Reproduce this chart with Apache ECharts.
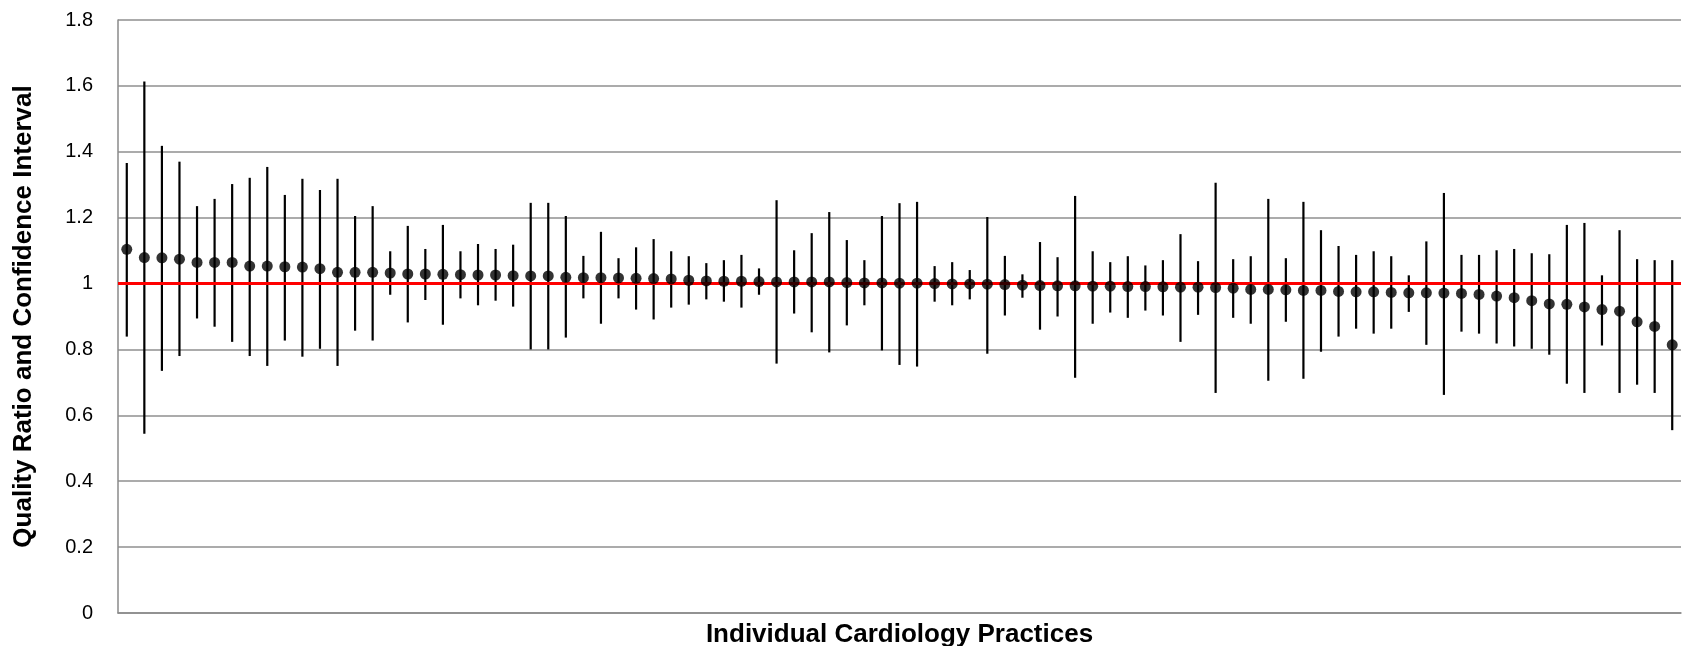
<!DOCTYPE html>
<html>
<head>
<meta charset="utf-8">
<script src="https://cdn.jsdelivr.net/npm/echarts@6/dist/echarts.min.js"></script>
<style>
html,body{margin:0;padding:0;background:#fff;}
#chart{width:1684px;height:646px;}
</style>
</head>
<body>
<div id="chart"></div>
<script>
var practices = [];
for (var k = 1; k <= 89; k++) practices.push(String(k));

var qualityRatio = [1.104,1.079,1.078,1.074,1.064,1.064,1.064,1.053,1.053,1.051,1.050,1.045,1.034,1.034,1.034,1.032,1.029,1.029,1.028,1.027,1.026,1.026,1.024,1.023,1.023,1.019,1.018,1.018,1.017,1.016,1.015,1.014,1.010,1.008,1.007,1.007,1.006,1.005,1.005,1.005,1.005,1.003,1.002,1.002,1.001,1.001,1.000,0.999,0.999,0.998,0.997,0.995,0.994,0.993,0.993,0.992,0.992,0.991,0.991,0.990,0.989,0.989,0.988,0.986,0.982,0.982,0.981,0.979,0.979,0.976,0.975,0.975,0.973,0.972,0.972,0.971,0.970,0.967,0.962,0.957,0.948,0.938,0.937,0.929,0.921,0.916,0.884,0.870,0.814];

var upperCI = [1.366,1.613,1.418,1.370,1.235,1.257,1.302,1.321,1.354,1.269,1.318,1.284,1.318,1.205,1.235,1.098,1.175,1.105,1.178,1.098,1.120,1.105,1.118,1.245,1.245,1.205,1.084,1.157,1.077,1.110,1.135,1.098,1.083,1.062,1.071,1.087,1.046,1.253,1.101,1.153,1.217,1.132,1.071,1.205,1.244,1.248,1.053,1.065,1.041,1.202,1.084,1.028,1.126,1.080,1.266,1.098,1.065,1.083,1.055,1.071,1.150,1.068,1.306,1.074,1.083,1.257,1.077,1.248,1.162,1.114,1.087,1.098,1.083,1.025,1.128,1.275,1.087,1.087,1.101,1.105,1.092,1.089,1.178,1.184,1.025,1.162,1.074,1.071,1.071];

var lowerCI = [0.839,0.544,0.735,0.780,0.894,0.869,0.823,0.780,0.750,0.827,0.778,0.802,0.750,0.857,0.827,0.966,0.882,0.950,0.875,0.955,0.934,0.948,0.930,0.800,0.800,0.836,0.955,0.878,0.955,0.921,0.891,0.927,0.936,0.952,0.945,0.927,0.966,0.757,0.909,0.852,0.791,0.873,0.934,0.797,0.753,0.748,0.945,0.934,0.952,0.787,0.903,0.957,0.860,0.900,0.714,0.878,0.912,0.896,0.918,0.903,0.823,0.905,0.668,0.896,0.878,0.705,0.884,0.711,0.793,0.839,0.863,0.848,0.863,0.914,0.814,0.662,0.854,0.848,0.818,0.809,0.802,0.784,0.696,0.668,0.812,0.668,0.693,0.668,0.555];

var referenceValue = 1;

var errorData = practices.map(function (p, i) { return [i, lowerCI[i], upperCI[i]]; });

var chart = echarts.init(document.getElementById('chart'), null, {renderer: 'canvas'});
var FONT = '"Liberation Sans", Arial, sans-serif';
chart.setOption({
  animation: false,
  backgroundColor: '#ffffff',
  grid: {left: 118, right: 3, top: 20, bottom: 33, containLabel: false, outerBoundsMode: 'none'},
  xAxis: {
    type: 'category',
    data: practices,
    boundaryGap: true,
    axisLine: {show: true, lineStyle: {color: '#8a8a8a', width: 1.5}},
    axisTick: {show: false},
    axisLabel: {show: false},
    splitLine: {show: false},
    name: 'Individual Cardiology Practices',
    nameLocation: 'middle',
    nameGap: 9,
    nameTextStyle: {fontFamily: FONT, fontWeight: 'bold', fontSize: 26, color: '#000'}
  },
  yAxis: {
    type: 'value',
    min: 0, max: 1.8, interval: 0.2,
    axisLine: {show: true, lineStyle: {color: '#8a8a8a', width: 1.5}},
    axisTick: {show: false},
    axisLabel: {fontFamily: FONT, fontSize: 20, color: '#000', margin: 25},
    splitLine: {show: true, lineStyle: {color: '#8f8f8f', width: 1.5}},
    name: 'Quality Ratio and Confidence Interval',
    nameLocation: 'middle',
    nameGap: 81,
    nameRotate: 90,
    nameTextStyle: {fontFamily: FONT, fontWeight: 'bold', fontSize: 26, color: '#000'}
  },
  series: [
    {
      type: 'custom',
      name: 'CI',
      z: 2,
      renderItem: function (params, api) {
        var lo = api.coord([api.value(0), api.value(1)]);
        var hi = api.coord([api.value(0), api.value(2)]);
        return {
          type: 'line',
          shape: {x1: lo[0], y1: lo[1], x2: hi[0], y2: hi[1]},
          style: {stroke: '#000', lineWidth: 2.2}
        };
      },
      encode: {x: 0, y: [1, 2]},
      data: errorData
    },
    {
      type: 'scatter',
      name: 'Quality Ratio',
      z: 4,
      symbol: 'circle',
      symbolSize: 11,
      itemStyle: {color: '#000'},
      data: qualityRatio,
      markLine: {
        silent: true,
        symbol: ['none', 'none'],
        label: {show: false},
        lineStyle: {color: '#ff0000', width: 3, type: 'solid'},
        data: [{yAxis: referenceValue}],
        z: 3
      }
    }
  ]
});
</script>
</body>
</html>
